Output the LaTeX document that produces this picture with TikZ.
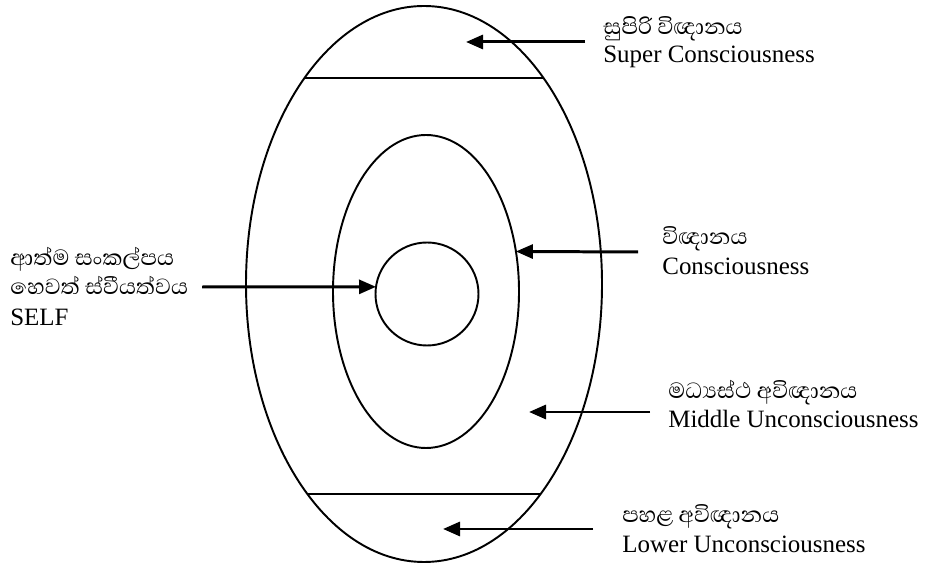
\documentclass[tikz,border=0pt]{standalone}
\usepackage{fontspec}
\setmainfont{Liberation Serif}
\newfontfamily\sinfont[Script=Sinhala]{Abhaya Libre}
\usetikzlibrary{arrows.meta,shapes.geometric}

\begin{document}
\begin{tikzpicture}[
  font=\fontsize{14.2}{16}\selectfont,
  >={Triangle[length=3.4mm,width=2.8mm]},
  ring/.style={draw, line width=1.1pt, inner sep=0pt, outer sep=0pt},
  sin/.style={anchor=base west, inner sep=0pt, font=\fontsize{16}{18}\selectfont\sinfont},
  eng/.style={anchor=base west, inner sep=0pt},
  ptr/.style={->, line width=1.7pt},
]
  \useasboundingbox (0,0) rectangle (18.5,-11.3);

  % ===================== RINGS =====================
  \node[ring, ellipse, minimum width=7.12cm, minimum height=11.12cm] (outer) at (8.48,-5.68) {};
  \node[ring, ellipse, minimum width=3.72cm, minimum height=6.26cm] (mid) at (8.52,-5.83) {};
  \node[ring, circle, minimum size=2.06cm] (inner) at (8.54,-5.88) {};

  % chords cutting off top and bottom
  \draw[line width=1.1pt] (outer.120) -- (outer.60.1);
  \draw[line width=1.1pt] (outer.-119) -- (outer.-61);

  % ===================== LABELS =====================
  \node[sin] (supsi) at (12.06,-0.70) {සුපිරි විඥානය};
  \node[eng] (supen) at (12.06,-1.26) {Super Consciousness};

  \node[sin] (selfsia) at (0.20,-5.32) {ආත්ම සංකල්පය};
  \node[sin] (selfsib) at (0.20,-5.90) {හෙවත් ස්වීයත්වය};
  \node[eng] (selfen) at (0.20,-6.52) {SELF};

  \node[sin] (consi) at (13.24,-4.90) {විඥානය};
  \node[eng] (conen) at (13.24,-5.50) {Consciousness};

  \node[sin] (midsi) at (13.36,-7.98) {මධ්‍යස්ථ අවිඥානය};
  \node[eng] (miden) at (13.36,-8.56) {Middle Unconsciousness};

  \node[sin] (lowsi) at (12.44,-10.46) {පහළ අවිඥානය};
  \node[eng] (lowen) at (12.44,-11.06) {Lower Unconsciousness};

  % ===================== ARROWS =====================
  \coordinate (suptail) at (11.70,-0.84);
  \coordinate (suptip) at (9.32,-0.84);
  \coordinate (selftail) at (4.04,-5.74);
  \coordinate (contail) at (12.76,-5.04);
  \coordinate (midtail) at (13.00,-8.24);
  \coordinate (midtip) at (10.58,-8.24);
  \coordinate (lowtail) at (11.86,-10.58);
  \coordinate (lowtip) at (8.86,-10.58);

  \draw[ptr] (suptail) -- (suptip);
  \draw[ptr] (selftail) -- (inner.172);
  \draw[ptr] (contail) -- (mid.24);
  \draw[ptr] (midtail) -- (midtip);
  \draw[ptr] (lowtail) -- (lowtip);
\end{tikzpicture}
\end{document}
